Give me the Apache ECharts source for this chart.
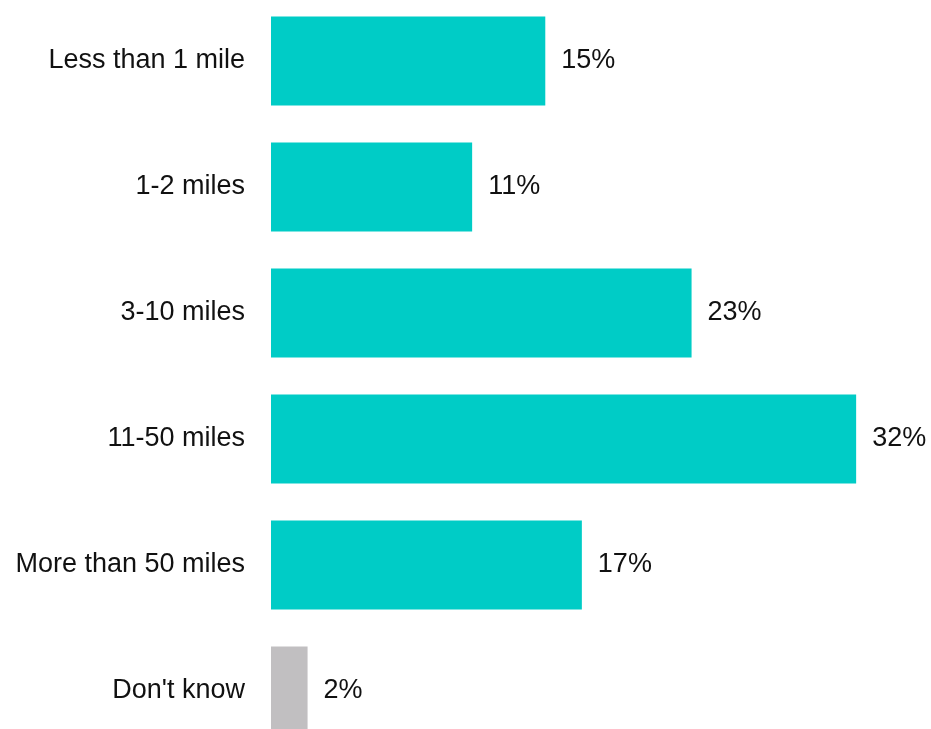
<!DOCTYPE html>
<html>
<head>
<meta charset="utf-8">
<script src="https://cdn.jsdelivr.net/npm/echarts@6/dist/echarts.min.js"></script>
<style>
  html, body { margin: 0; padding: 0; background: #fff; }
  #chart { width: 931px; height: 729px; }
</style>
</head>
<body>
<div id="chart"></div>
<script>
  const categories = ['Less than 1 mile', '1-2 miles', '3-10 miles', '11-50 miles', 'More than 50 miles', "Don't know"];
  const values = [15, 11, 23, 32, 17, 2];
  const barColors = ['#00CCC6', '#00CCC6', '#00CCC6', '#00CCC6', '#00CCC6', '#C1BFC1'];

  const chart = echarts.init(document.getElementById('chart'));
  chart.setOption({
    animation: false,
    grid: {
      left: 271, right: 20, top: -2, bottom: -25,
      containLabel: false,
      outerBoundsMode: 'none'
    },
    xAxis: {
      type: 'value',
      min: 0,
      max: 35,
      show: false
    },
    yAxis: {
      type: 'category',
      data: categories,
      inverse: true,
      axisLine: { show: false },
      axisTick: { show: false },
      axisLabel: {
        margin: 26,
        color: '#111',
        fontFamily: 'Liberation Sans, Arial, sans-serif',
        fontSize: 27
      }
    },
    series: [{
      type: 'bar',
      barWidth: 89,
      data: values.map((v, i) => ({ value: v, itemStyle: { color: barColors[i] } })),
      label: {
        show: true,
        position: 'right',
        distance: 16,
        formatter: '{c}%',
        color: '#111',
        fontFamily: 'Liberation Sans, Arial, sans-serif',
        fontSize: 27
      }
    }]
  });
</script>
</body>
</html>
